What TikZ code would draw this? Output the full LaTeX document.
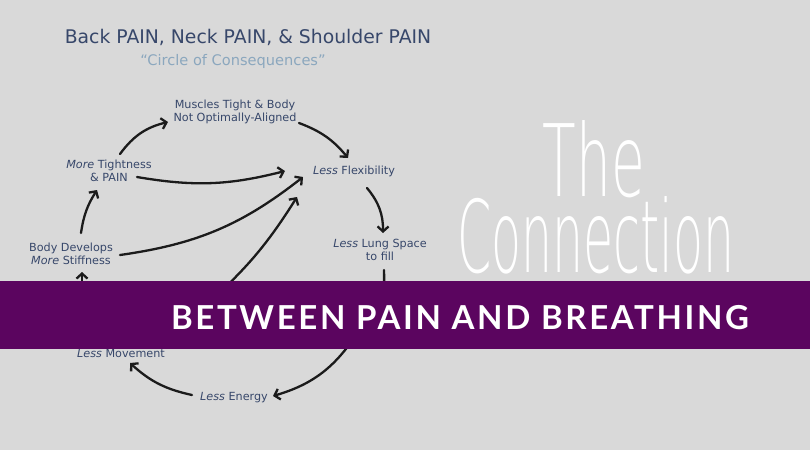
\documentclass[tikz,border=0pt]{standalone}
\usepackage{fontspec}
\setmainfont{DejaVu Sans}
\newfontfamily\thinfont{DejaVu Sans ExtraLight}
\newfontfamily\bannerfont[LetterSpace=8]{Lato}
\usetikzlibrary{arrows.meta}
\definecolor{bg}{HTML}{D9D9D9}
\definecolor{band}{HTML}{5B055F}
\definecolor{txt}{HTML}{37476A}
\definecolor{sub}{HTML}{8BA7BE}
\definecolor{ink}{HTML}{1B1B1B}
\begin{document}
\begin{tikzpicture}[x=1pt,y=-1pt,
  lab/.style={font=\fontsize{11.2}{13.5}\selectfont, text=txt, align=center, inner sep=0pt},
  arr/.style={draw=ink, line width=2.3pt, line cap=round, -{Straight Barb[length=5pt,width=11pt]}},
  plain/.style={draw=ink, line width=2.3pt, line cap=round},
  big/.style={font=\thinfont\fontsize{100}{100}\selectfont, text=white, anchor=base, inner sep=0pt}]
\fill[bg] (0,0) rectangle (810,450);
\useasboundingbox (0,0) rectangle (810,450);

\node[font=\fontsize{18.8}{22}\selectfont, text=txt, inner sep=0pt] (title) at (248,37) {Back PAIN, Neck PAIN, \& Shoulder PAIN};
\node[font=\fontsize{14.6}{17}\selectfont, text=sub, inner sep=0pt] (subtitle) at (233,61) {“Circle of Consequences”};

\node[lab] (muscles) at (235,112) {Muscles Tight \& Body\\Not Optimally-Aligned};
\node[lab] (moretight) at (109,171) {\textit{More} Tightness\\\& PAIN};
\node[lab] (flex) at (354,171) {\textit{Less} Flexibility};
\node[lab] (lung) at (380,250) {\textit{Less} Lung Space\\to fill};
\node[lab] (body) at (71,254) {Body Develops\\\textit{More} Stiffness};
\node[lab] (movement) at (121,353) {\textit{Less} Movement};
\node[lab] (energy) at (234,398) {\textit{Less} Energy};

\coordinate (h5) at (205,306);
\coordinate (h7) at (382,305);
\coordinate (h8) at (356,335);
\coordinate (h11) at (82,305);

\draw[arr] ([shift={(11,-17)}]moretight.center) to[bend left=20] ([shift={(-67,10)}]muscles.center);
\draw[arr] ([shift={(64,11)}]muscles.center) to[bend left=15] ([shift={(-6,-13)}]flex.center);
\draw[arr] ([shift={(28,6)}]moretight.center) to[bend right=12] ([shift={(-69,0)}]flex.center);
\draw[arr] ([shift={(49,1)}]body.center) to[bend right=15] ([shift={(-51,6)}]flex.center);
\draw[arr] (h5) to[bend right=8] ([shift={(-57,26)}]flex.center);
\draw[arr] ([shift={(13,17)}]flex.center) to[bend left=20] ([shift={(3,-17)}]lung.center);
\draw[plain] ([shift={(4,20)}]lung.center) to[bend left=5] (h7);
\draw[arr] (h8) to[bend left=20] ([shift={(39,-2)}]energy.center);
\draw[arr] ([shift={(-42,-3)}]energy.center) to[bend left=15] ([shift={(9,10)}]movement.center);
\draw[arr] ([shift={(10,-21)}]body.center) to[bend left=12] ([shift={(-12,19)}]moretight.center);
\draw[arr] (h11) -- ([shift={(11,18)}]body.center);

\node[big] (the) at (594,196) {\scalebox{0.55}[1]{The}};
\node[big, text height=70pt] (conn) at (596,272) {\scalebox{0.49}[1]{Connection}};

\fill[band] (0,281) rectangle (810,349);
\node[font=\bannerfont\bfseries\fontsize{33}{33}\selectfont, text=white, anchor=base, inner sep=0pt] (banner) at (460,329) {BETWEEN PAIN AND BREATHING};
\end{tikzpicture}
\end{document}
